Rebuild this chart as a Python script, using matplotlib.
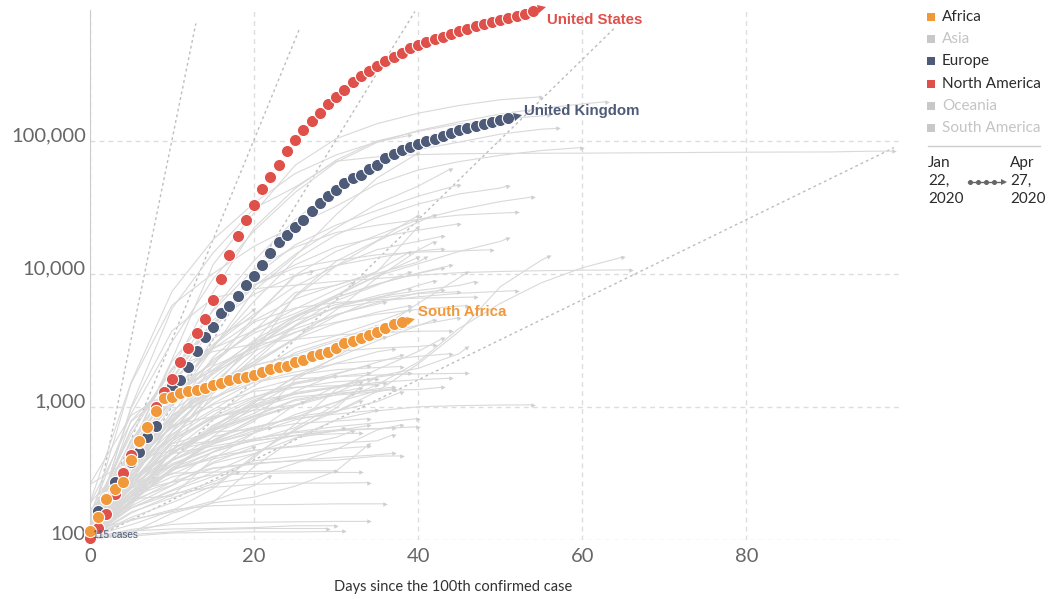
import numpy as np
import matplotlib
matplotlib.use("Agg")
import matplotlib.pyplot as plt
from matplotlib.lines import Line2D
from matplotlib.markers import MarkerStyle
from matplotlib.transforms import Affine2D, offset_copy

plt.rcParams["font.family"] = ["Lato", "DejaVu Sans"]

# highlighted countries: confirmed cases, one value per day since the 100th case
us_cases = [103, 124, 158, 221, 319, 435, 541, 704, 994, 1301, 1630, 2183, 2770, 3613,
            4596, 6344, 9197, 13779, 19273, 25600, 33276, 43847, 53740, 65778, 83836,
            101657, 121465, 140909, 161831, 188172, 213242, 243622, 275367, 308650,
            336802, 366317, 397121, 428654, 462780, 496535, 526396, 555313, 580619,
            607670, 636350, 667592, 699706, 732197, 759086, 784326, 811865, 840351,
            869170, 905358, 945000]
uk_cases = [115, 164, 207, 274, 322, 384, 459, 595, 720, 1144, 1440, 1596, 2000, 2637,
            3360, 3993, 5090, 5740, 6780, 8270, 9660, 11700, 14400, 17300, 19780, 22453,
            25481, 29865, 34173, 38689, 42477, 48436, 52279, 55949, 61474, 65872, 74605,
            79874, 85206, 89570, 94845, 99483, 104145, 109769, 115314, 121172, 125856,
            130172, 134638, 139246, 144640, 149569]
za_cases = [116, 150, 202, 240, 274, 402, 554, 709, 927, 1170, 1187, 1280, 1326, 1353,
            1380, 1462, 1505, 1585, 1655, 1686, 1749, 1845, 1934, 2003, 2028, 2173, 2272,
            2415, 2506, 2605, 2783, 3034, 3158, 3300, 3465, 3635, 3953, 4220, 4361]
highlight_names = ["United States", "United Kingdom", "South Africa"]

# other countries: values every 5 days, last value at the last day
grey_last_day = [63, 55, 56, 57, 60, 98, 39, 40, 44, 45, 51, 54, 52, 45, 49, 51, 43, 42,
                 40, 40, 42, 39, 41, 40, 56, 65, 66, 47, 52, 46, 43, 42, 44, 43, 39, 46,
                 27, 32, 36, 39, 39, 39, 42, 37, 45, 35, 36, 45, 43, 46, 46, 44, 42, 47,
                 35, 34, 38, 54, 34, 29, 36, 40, 37, 34, 34, 37, 37, 35, 34, 36, 38, 43,
                 44, 37, 38, 37, 34, 33, 32, 33, 38, 20, 30, 34, 35, 39, 35, 44, 37, 38,
                 31, 34, 43, 40, 23, 32, 33, 26, 23, 33, 37, 34, 30, 22, 33, 18, 20, 30,
                 31, 22]
grey_values = [
    [155, 888, 3089, 9172, 21157, 41035, 69176, 97689, 119827, 139422, 159516, 175925, 189973, 197675],
    [120, 500, 2277, 11748, 28768, 65719, 104118, 135032, 161852, 184948, 204178, 215000],
    [130, 670, 1908, 7272, 22213, 43938, 71808, 100123, 118181, 134753, 147065, 154000, 157000],
    [100, 377, 1784, 5423, 12612, 25600, 44550, 68605, 86334, 98076, 112606, 122577, 124575],
    [139, 1501, 5823, 10075, 16169, 23049, 32332, 47593, 60500, 70029, 77995, 84802, 89328],
    [100, 1000, 5500, 14400, 31100, 45000, 70500, 76000, 79000, 80200, 80700, 80900, 81000,
     81400, 81700, 82100, 82400, 82600, 82700, 83800, 83900],
    [191, 1529, 7402, 18135, 34109, 56956, 78546, 98674, 110130],
    [114, 367, 1036, 2777, 7497, 13584, 27938, 52763, 80949],
    [151, 621, 1924, 3904, 8044, 14034, 22169, 33682, 45757, 61888],
    [117, 478, 1465, 4018, 9560, 16563, 23318, 30106, 38422, 46884],
    [169, 314, 1243, 2815, 6235, 12775, 19691, 26667, 33573, 39983, 44293, 46134],
    [128, 321, 804, 2051, 4764, 9819, 14788, 19580, 25587, 30449, 35032, 38040],
    [114, 491, 2200, 5294, 10897, 15922, 20505, 23280, 25688, 27740, 28700, 29061],
    [112, 448, 1600, 4268, 8251, 11730, 15987, 18841, 21379, 23864],
    [104, 504, 1646, 4486, 8271, 11129, 12639, 13945, 14595, 14900, 15225],
    [101, 500, 1103, 1763, 2840, 4435, 6830, 9685, 11927, 14777, 17567, 18640],
    [143, 677, 1930, 4247, 7030, 9755, 11586, 13265, 14882, 15443],
    [113, 244, 657, 1397, 3082, 6725, 11487, 17615, 24530, 27890],
    [117, 363, 580, 1323, 2561, 6848, 12491, 17837, 27517],
    [111, 789, 1627, 2758, 3747, 7257, 8225, 10398, 22719],
    [103, 274, 767, 1453, 2179, 3287, 5369, 9362, 15102, 17522],
    [118, 367, 848, 1510, 2785, 4661, 6875, 10544, 14677],
    [155, 537, 1306, 2738, 4471, 6501, 8273, 10088, 12306, 13331],
    [187, 776, 1373, 2118, 3864, 5038, 6919, 9749, 13328],
    [106, 130, 166, 243, 432, 683, 926, 1309, 2108, 3699, 8014, 12693, 13624],
    [105, 189, 274, 461, 639, 878, 1086, 1468, 2178, 3906, 6005, 8582, 11135, 13441],
    [104, 977, 3736, 6593, 7755, 8236, 8799, 9241, 9786, 10237, 10450, 10591, 10674, 10728, 10738],
    [264, 864, 1337, 1877, 2860, 4077, 5635, 6681, 7515, 8210, 8773],
    [108, 400, 1221, 1914, 3084, 4445, 5550, 6211, 6740, 7156, 7401, 7499],
    [129, 566, 1183, 2031, 2766, 3662, 4346, 4987, 5425, 5742, 5780],
    [111, 217, 552, 1418, 3018, 3870, 4932, 6087, 7192, 7579],
    [117, 369, 790, 1414, 2092, 3293, 4839, 6575, 8211, 8882],
    [103, 287, 749, 1638, 2946, 4848, 6674, 8379, 10169, 11617],
    [123, 277, 762, 1815, 3183, 4761, 6633, 8418, 10096, 11036],
    [113, 198, 468, 1264, 2359, 4123, 6302, 8238, 10349],
    [262, 401, 470, 549, 781, 1604, 2376, 3711, 6015, 9358, 10287],
    [152, 440, 1066, 3281, 4779, 9590, 10463],
    [145, 480, 1225, 2203, 3764, 5449, 7647, 8617],
    [112, 488, 1109, 1828, 2620, 3614, 4964, 5926, 6135],
    [103, 249, 659, 1476, 2200, 4054, 5690, 6890, 7779],
    [109, 345, 786, 1475, 2100, 3234, 4273, 5166, 5779],
    [102, 306, 608, 1161, 1780, 2776, 3439, 4356, 5379],
    [110, 285, 456, 656, 1070, 1699, 2350, 3144, 4092, 4534],
    [128, 387, 820, 1353, 1795, 2277, 2930, 3607, 3780],
    [109, 321, 626, 958, 1446, 2176, 2905, 3489, 4129, 4695],
    [115, 345, 654, 1141, 1661, 2564, 3209, 4065],
    [139, 367, 716, 1320, 1761, 2160, 2718, 3256, 3382],
    [116, 464, 1120, 2279, 3589, 4822, 5902, 6549, 7132, 7352],
    [104, 148, 191, 255, 417, 743, 1355, 1915, 2614, 3288],
    [110, 228, 332, 458, 567, 700, 1040, 1700, 1952, 2518, 2811],
    [103, 180, 473, 802, 1135, 1486, 1689, 1739, 1773, 1789, 1792],
    [190, 418, 695, 1061, 1544, 1832, 2114, 2235, 2401, 2517],
    [114, 322, 934, 1524, 2067, 2423, 2613, 2765, 2854, 2922],
    [107, 297, 876, 2364, 4361, 5550, 6104, 6400, 6586, 6666, 6711],
    [102, 368, 708, 1039, 1312, 1409, 1445, 1469],
    [113, 174, 222, 249, 262, 268, 268, 270],
    [108, 215, 298, 348, 379, 393, 398, 427, 429],
    [100, 114, 137, 192, 356, 582, 802, 936, 1004, 1024, 1035, 1038],
    [104, 120, 131, 135, 136, 137, 138, 138],
    [103, 110, 115, 120, 122, 122, 122],
    [118, 140, 169, 181, 184, 185, 187, 187, 187],
    [120, 248, 446, 508, 575, 641, 672, 688, 710],
    [112, 212, 274, 345, 372, 397, 417, 437, 449],
    [102, 113, 159, 190, 210, 254, 330, 523],
    [116, 230, 396, 526, 662, 750, 784, 817],
    [113, 231, 375, 489, 558, 612, 662, 687, 697],
    [110, 217, 338, 406, 473, 502, 535, 557, 620],
    [114, 227, 394, 596, 707, 822, 884, 949],
    [104, 197, 259, 377, 446, 584, 663, 726],
    [126, 323, 579, 816, 1039, 1285, 1421, 1486, 1516],
    [105, 382, 867, 1182, 1534, 1741, 1908, 1981, 2016],
    [141, 253, 442, 730, 997, 1188, 1268, 1335, 1353, 1408],
    [115, 258, 404, 715, 1108, 1258, 1400, 1528, 1605, 1647],
    [105, 209, 460, 634, 843, 1026, 1239, 1370, 1410],
    [103, 187, 408, 678, 895, 1310, 1763, 2168, 2443],
    [111, 284, 443, 697, 1091, 1676, 2135, 2601, 2717],
    [113, 193, 509, 555, 820, 1017, 1430, 1621],
    [137, 204, 214, 408, 636, 1042, 1279, 1550],
    [111, 174, 238, 323, 442, 665, 981, 1273],
    [101, 190, 349, 533, 638, 801, 916, 1111],
    [105, 162, 207, 265, 299, 377, 479, 671, 736],
    [117, 424, 1231, 2948, 5416],
    [106, 273, 555, 840, 1176, 1531, 1703],
    [109, 192, 331, 599, 1019, 1508, 1790, 2049],
    [109, 298, 864, 1438, 2049, 2472, 3110, 3638],
    [115, 265, 532, 833, 1013, 1248, 1401, 1677, 1808],
    [122, 273, 584, 926, 1197, 1398, 1548, 1617],
    [140, 670, 1950, 2612, 2970, 3223, 3480, 3618, 3711, 3729],
    [105, 216, 363, 534, 701, 835, 1089, 1325, 1373],
    [127, 242, 399, 549, 685, 846, 929, 1097, 1300],
    [107, 216, 339, 419, 516, 612, 665, 695],
    [104, 227, 555, 865, 1349, 1627, 1692, 1804],
    [129, 557, 1564, 2910, 4994, 8089, 11479, 15251, 17607, 19262],
    [111, 197, 347, 458, 577, 651, 712, 761, 818],
    [107, 194, 330, 564, 807, 950],
    [110, 264, 312, 426, 472, 510, 591, 661],
    [119, 269, 457, 669, 862, 1137, 1285, 1389],
    [135, 298, 732, 846, 945, 1035, 1089],
    [111, 194, 477, 688, 954, 1163],
    [105, 233, 272, 308, 316, 320, 322, 322],
    [114, 285, 483, 663, 854, 1117, 1231, 1300, 1367],
    [103, 174, 234, 300, 394, 425, 486, 505],
    [102, 227, 318, 324, 328, 331, 331],
    [120, 253, 529, 648, 681, 696],
    [114, 246, 364, 484, 557, 609, 629, 635],
    [103, 159, 218, 274, 323],
    [126, 180, 257, 384, 500],
    [102, 117, 121, 122, 124, 128, 128],
    [103, 107, 113, 114, 115, 115, 116, 116],
    [104, 143, 163, 196, 257, 305],
]

# doubling-time guides: doubling period (days) and the day each guide stops
doubling_days = [1, 2, 3, 5, 10]
guide_end_day = [12.9, 25.6, 39.6, 64, 98]
y_ticks = [100, 1000, 10000, 100000]
x_ticks = [0, 20, 40, 60, 80]

continents = ["Africa", "Asia", "Europe", "North America", "Oceania", "South America"]
continent_on = [True, False, True, True, False, False]

RED, NAVY, ORANGE = "#E0504A", "#4E5B78", "#F0983A"
GRID = "#dddddd"
GREY_LINE = "#d9d9d9"
continent_colors = [ORANGE, "#c8c8c8", NAVY, RED, "#c8c8c8", "#c8c8c8"]
highlight_colors = [RED, NAVY, ORANGE]

W, H = 1049, 599
fig = plt.figure(figsize=(W / 100, H / 100), dpi=100)
ax = fig.add_axes([90 / W, 59 / H, 813 / W, 530 / H])
ax.set_yscale("log")
ax.set_xlim(0, 99.1)
ax.set_ylim(100, 9.66e5)


def end_arrow(xs, ys, color, size, gap, z):
    p0 = ax.transData.transform((xs[-2], ys[-2]))
    p1 = ax.transData.transform((xs[-1], ys[-1]))
    ang = np.arctan2(p1[1] - p0[1], p1[0] - p0[0])
    tr = offset_copy(ax.transData, fig=fig, x=gap * np.cos(ang), y=gap * np.sin(ang),
                     units="points")
    m = MarkerStyle(">", transform=Affine2D().rotate_deg(np.degrees(ang)))
    ax.plot([xs[-1]], [ys[-1]], marker=m, ms=size, color=color, mew=0, transform=tr,
            zorder=z, clip_on=False)


# background countries
for last, vals in zip(grey_last_day, grey_values):
    days = list(range(0, last, 5)) + [last]
    if len(days) != len(vals):
        raise ValueError(f"{last}: {len(days)} vs {len(vals)}")
    ax.plot(days, vals, color=GREY_LINE, lw=0.8, zorder=2, solid_joinstyle="round")
    end_arrow(days, vals, "#cfcfcf", 3.2, 0, 2)

# doubling-time guide lines
for d, x_end in zip(doubling_days, guide_end_day):
    xs = np.linspace(0, x_end, 2)
    ax.plot(xs, 100 * 2 ** (xs / d), color="#bdbdbd", lw=1, ls=(0, (2, 2.2)), zorder=1)

# highlighted countries
series = [us_cases, uk_cases, za_cases]
label_off = [(10, -6.5), (11.5, 5), (12, 7)]
for vals, name, col, off, z in zip(series, highlight_names, highlight_colors, label_off,
                                   [5, 4, 6]):
    days = np.arange(len(vals))
    ax.plot(days, vals, ls="none", marker="o", ms=8.8, mfc=col, mec="white", mew=0.8,
            zorder=z, clip_on=False)
    end_arrow(days, vals, col, 6, 7, z)
    ax.annotate(name, xy=(days[-1], vals[-1]), xytext=off, textcoords="offset points",
                ha="left", va="center", color=col, fontsize=10.8, fontweight="bold",
                family="Liberation Sans", zorder=7)

ax.annotate("115 cases", xy=(0, uk_cases[0]), xytext=(2, -2.5), textcoords="offset points",
            ha="left", va="center", color=NAVY, fontsize=7.2, family="Liberation Sans",
            zorder=7)

# axes styling
ax.set_yticks(y_ticks)
ax.set_yticklabels([f"{v:,}" for v in y_ticks])
ax.minorticks_off()
ax.set_xticks(x_ticks)
ax.tick_params(axis="both", length=0, labelsize=14.5, labelcolor="#666666")
ax.tick_params(axis="y", pad=3)
ax.tick_params(axis="x", pad=6)
for lab in ax.get_yticklabels():
    lab.set_verticalalignment("baseline")
ax.grid(True, color=GRID, lw=1, ls=(0, (3.5, 3)))
for s in ["top", "right", "bottom"]:
    ax.spines[s].set_visible(False)
ax.spines["left"].set_color("#cccccc")
ax.set_axisbelow(True)

fig.text(453 / W, 1 - 587 / H, "Days since the 100th confirmed case", ha="center",
         va="center", fontsize=10.5, color="#333333")

# legend
for i, (name, col, on) in enumerate(zip(continents, continent_colors, continent_on)):
    yy = 1 - (17 + 22.2 * i) / H
    fig.add_artist(Line2D([931 / W], [yy], marker="s", ms=6, color=col, mew=0,
                          transform=fig.transFigure))
    fig.text(942 / W, yy, name, ha="left", va="center", fontsize=11,
             color="#2b2b2b" if on else "#c4c4c4")
fig.add_artist(Line2D([928 / W, 1040 / W], [1 - 146 / H] * 2, color="#cccccc", lw=1,
                      transform=fig.transFigure))
fig.text(928 / W, 1 - 156 / H, "Jan\n22,\n2020", ha="left", va="top", fontsize=11,
         color="#2b2b2b", linespacing=1.36)
fig.text(1010 / W, 1 - 156 / H, "Apr\n27,\n2020", ha="left", va="top", fontsize=11,
         color="#2b2b2b", linespacing=1.36)
tl_y = 1 - 182 / H
fig.add_artist(Line2D([968 / W, 1004 / W], [tl_y, tl_y], color="#666666", lw=1,
                      transform=fig.transFigure))
fig.add_artist(Line2D(np.linspace(970, 994, 4) / W, [tl_y] * 4, ls="none", marker="o",
                      ms=2.6, color="#666666", transform=fig.transFigure))
fig.add_artist(Line2D([1004 / W], [tl_y], marker=">", ms=4.5, mew=0, color="#666666",
                      transform=fig.transFigure))

fig.savefig("out.png", dpi=100)
